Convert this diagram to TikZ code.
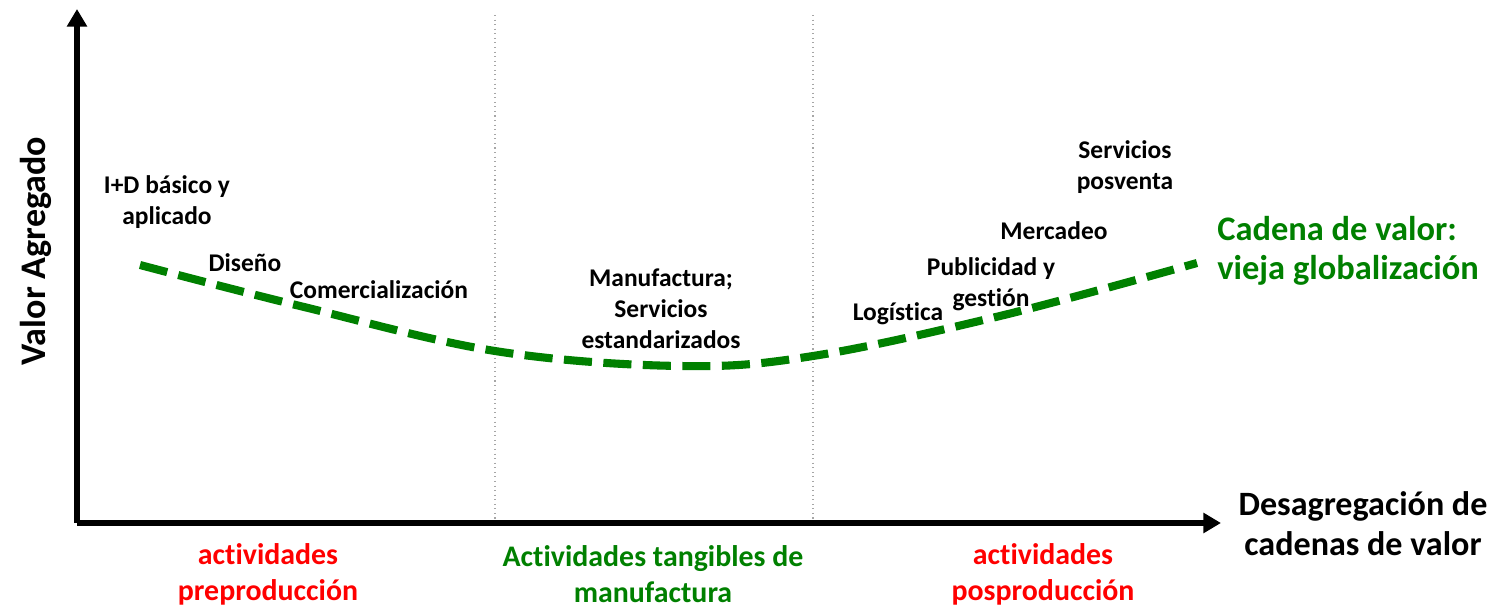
\documentclass[tikz,border=0pt]{standalone}
\usepackage{fontspec}
\setmainfont{Carlito}[Ligatures=NoCommon]
\usetikzlibrary{positioning, arrows.meta}

\begin{document}
\begin{tikzpicture}[
    x=0.02cm, y=-0.02cm,
    axis/.style={line width=3.6pt, -{Triangle[length=10pt, width=11pt]}},
    divider/.style={gray!70, line width=0.6pt, dotted},
    chain/.style={line width=4.6pt, green!50!black, dash pattern=on 16pt off 6.5pt},
    stage/.style={font=\fontsize{14.5}{17.6}\selectfont\bfseries, align=center, inner sep=0pt},
    axislabel/.style={font=\fontsize{19.4}{22.7}\selectfont\bfseries, align=center, inner sep=0pt},
    phase/.style={font=\fontsize{17}{20.5}\selectfont\bfseries, align=center, inner sep=0pt},
]
\useasboundingbox (0,0) rectangle (1502,608);

% Axes
\coordinate (origin) at (77,523);
\coordinate (ytip) at (77,9);
\coordinate (xtip) at (1221,523);
\draw[axis] (origin) -- (ytip);
\draw[axis] (origin) -- (xtip);

% Dividers between phases
\coordinate (divA top) at (495,15);
\coordinate (divA bot) at (495,521);
\coordinate (divB top) at (813,15);
\coordinate (divB bot) at (813,521);
\draw[divider] (divA top) -- (divA bot);
\draw[divider] (divB top) -- (divB bot);

% Value chain curve
\draw[chain] plot[smooth, tension=0.6] coordinates {
  (140,265) (300,306) (495,351) (680,366) (813,356) (1000,316) (1197,263)};

% Activities along the chain
\node[stage] (ID) at (167,202) {I+D básico y\\aplicado};
\node[stage] (diseno) at (245,263) {Diseño};
\node[stage] (comerc) at (379,290) {Comercialización};
\node[stage] (manuf) at (661,309) {Manufactura;\\Servicios\\estandarizados};
\node[stage] (logist) at (898,314) {Logística};
\node[stage] (public) at (991,284) {Publicidad y\\gestión};
\node[stage] (mercadeo) at (1054,231) {Mercadeo};
\node[stage] (posventa) at (1125,167) {Servicios\\posventa};

% Curve label
\node[phase, text=green!50!black, font=\fontsize{19.6}{22.4}\selectfont\bfseries, align=left, anchor=west]
  (cadena) at (1217,251) {Cadena de valor:\\vieja globalización};

% Axis labels
\node[axislabel, rotate=90, font=\fontsize{20.5}{24}\selectfont\bfseries] (ylabel) at (36,251) {Valor Agregado};
\node[axislabel] (xlabel) at (1363,524) {Desagregación de\\cadenas de valor};

% Phases under the axis
\node[phase, text=red] (pre) at (268,574) {actividades\\preproducción};
\node[phase, text=green!50!black] (tang) at (653,574) {Actividades tangibles de\\manufactura};
\node[phase, text=red] (pos) at (1043,574) {actividades\\posproducción};
\end{tikzpicture}
\end{document}
